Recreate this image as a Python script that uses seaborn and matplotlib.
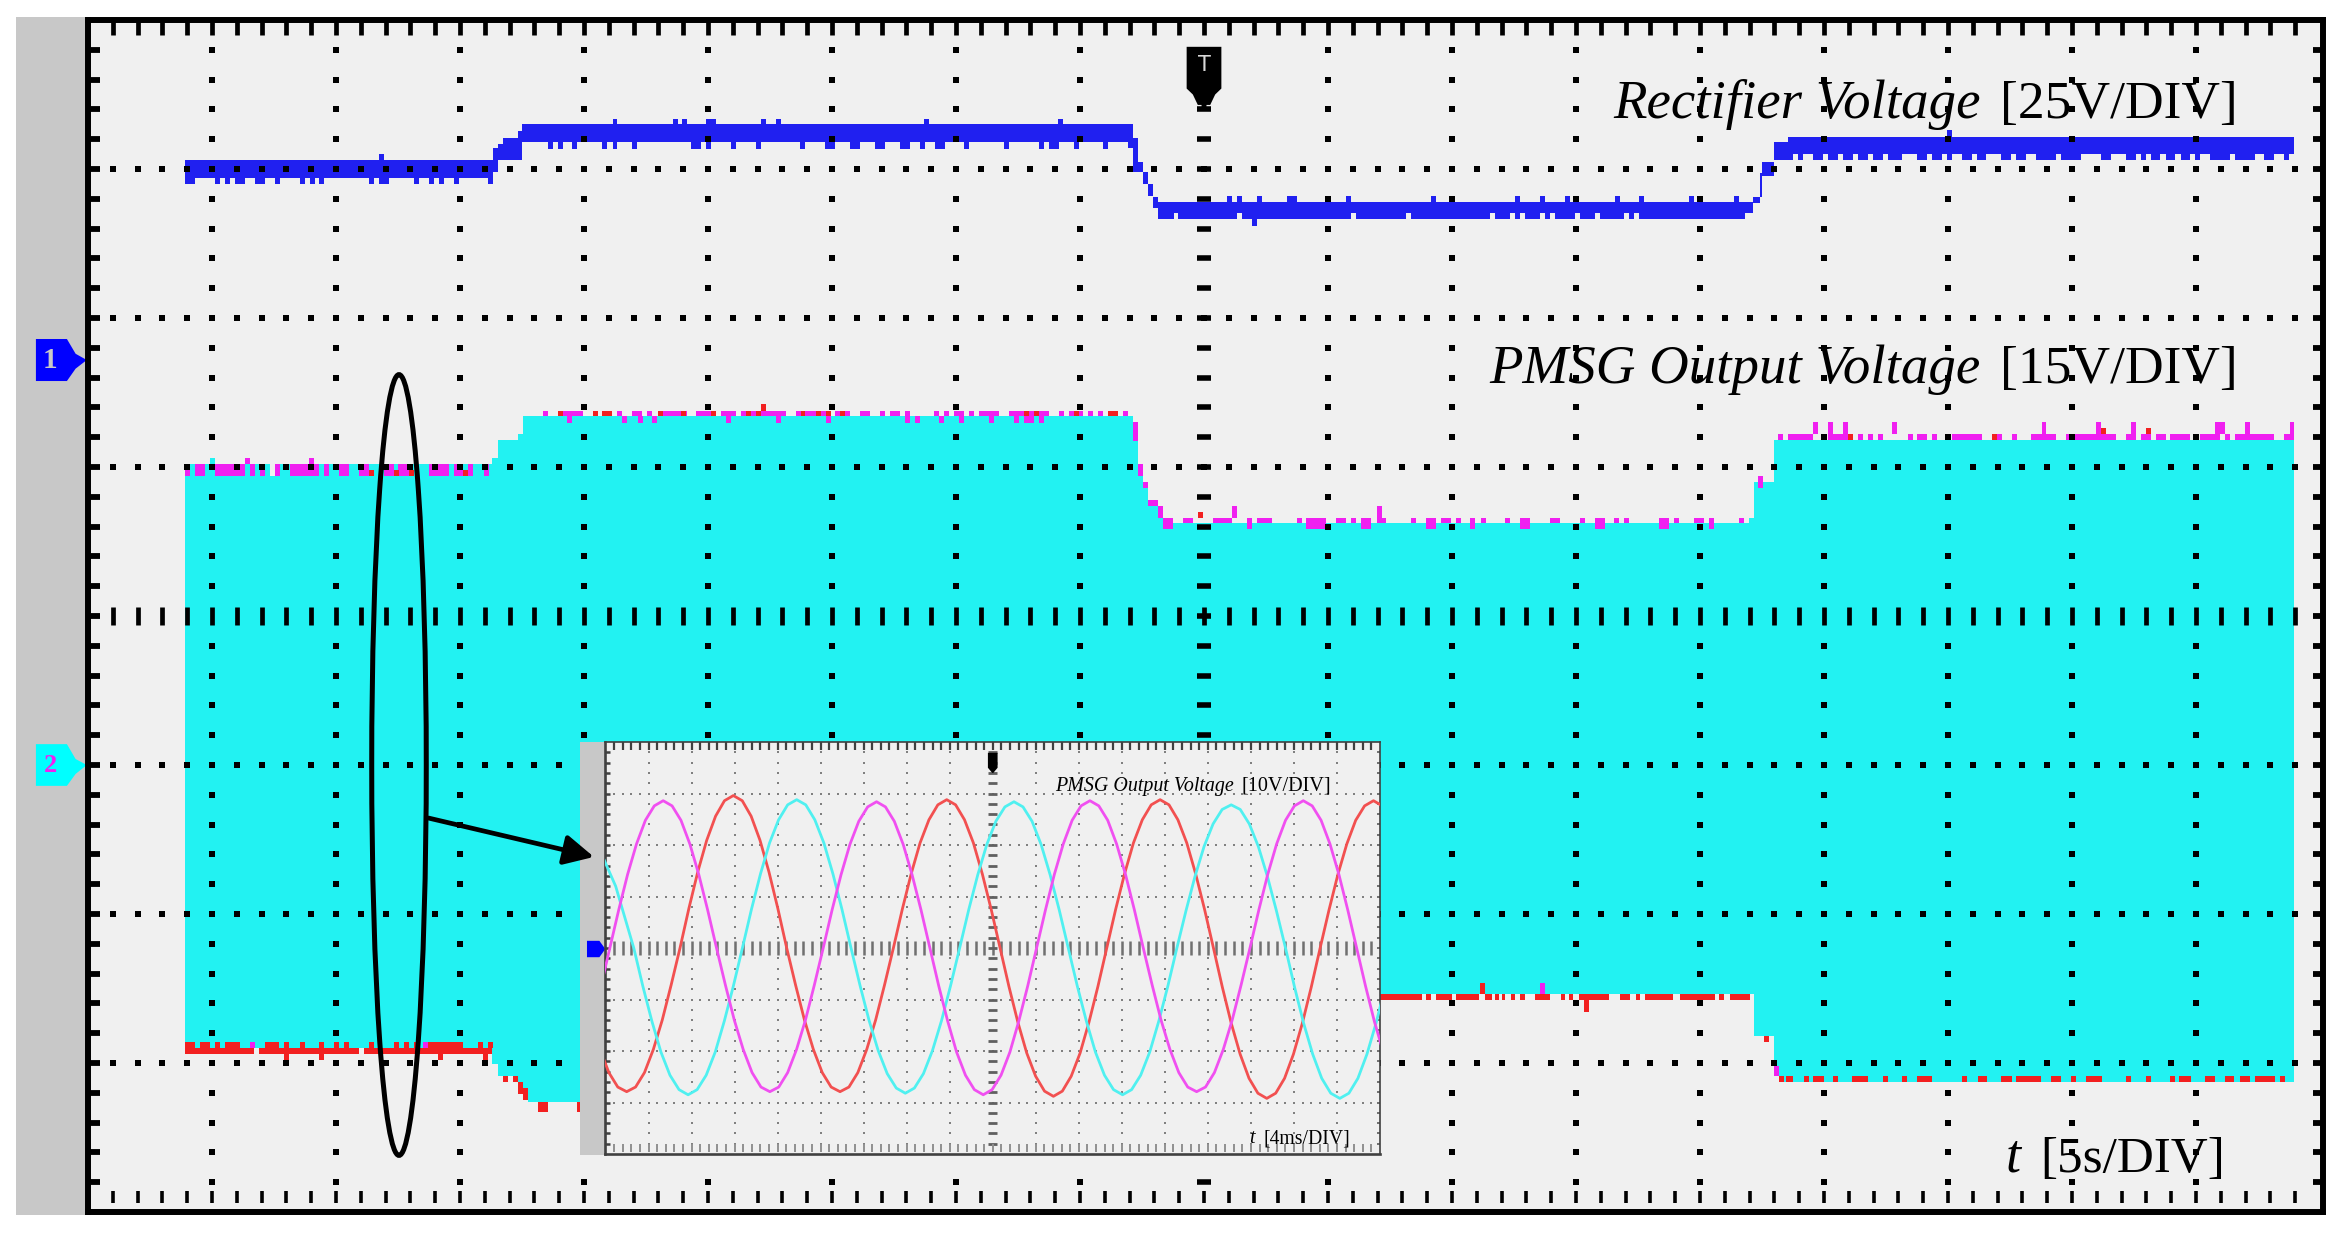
import numpy as np
import pandas as pd
import matplotlib
matplotlib.use("Agg")
import matplotlib.pyplot as plt
from matplotlib.patches import Ellipse, Polygon, Rectangle
import seaborn as sns

# ---- main trace: time in s (5 s/DIV), level in divisions from screen centre ----
blue_t = [3.91, 16.33, 16.53, 16.73, 17.34, 17.5, 41.94, 42.14, 42.34, 42.54, 42.74, 42.94, 43.14,
          66.8, 67.15, 67.4, 67.5, 68.0, 68.55, 88.97]
blue_top = [3.06, 3.14, 3.17, 3.21, 3.255, 3.30, 3.30, 3.21, 3.05, 2.98, 2.90, 2.81, 2.78,
            2.78, 2.81, 2.97, 3.05, 3.18, 3.215, 3.215]
blue_bot = [2.94, 2.98, 3.06, 3.06, 3.06, 3.18, 3.14, 2.98, 2.98, 2.90, 2.82, 2.74, 2.665,
            2.705, 2.77, 2.81, 2.95, 3.06, 3.10, 3.10]
blue_a_low = [3.91, 4.11, 5.14, 5.53, 5.93, 6.13, 6.72, 6.92, 7.53, 8.54, 8.94, 9.33, 11.33, 11.73, 11.93,
              13.14, 13.75, 14.14, 14.74, 16.14]
blue_a_up = [11.73]
blue_b_low = [18.54, 18.94, 19.53, 20.74, 21.15, 21.95, 24.33, 24.53, 24.92, 25.93, 26.94, 28.72, 29.73, 29.93,
              30.73, 30.93, 31.73, 31.93, 32.74, 32.94, 33.54, 34.14, 34.34, 35.34, 36.94, 38.35, 38.74, 38.94,
              39.75, 40.94]
blue_b_up = [21.15, 23.57, 23.96, 24.92, 25.12, 27.14, 27.73, 33.72, 39.13]
blue_c_up = [45.93, 46.33, 47.14, 48.34, 48.54, 50.74, 54.14, 57.54, 58.55, 59.54, 61.56, 62.55, 64.54, 66.36]
blue_c_notch = [43.77, 46.34, 50.94, 53.15, 56.55, 57.33, 57.74, 58.55, 58.95, 59.95, 60.75, 61.95, 62.35]
blue_c_down = [46.94]
blue_d_low = [(68.36, .39), (68.97, .2), (69.56, .39), (70.16, .39), (70.77, .39), (71.37, .39), (71.97, .39),
              (72.56, .59), (73.76, .39), (74.36, .39), (74.95, .2), (75.56, .39), (76.16, .39), (77.15, .39),
              (77.76, .39), (78.56, .79), (79.56, .8), (81.17, .39), (82.18, .39), (82.78, .2), (83.17, .39),
              (83.77, .39), (84.38, .39), (84.97, .2), (85.56, .8), (86.56, .8), (87.76, .39), (88.56, .2)]
blue_d_up = [74.95]

cyan_t = [3.91, 16.31, 16.53, 17.34, 17.53, 17.74, 42.15, 42.33, 42.55, 42.74, 43.14, 43.34, 50.0,
          66.99, 67.17, 67.97, 68.18, 88.97]
cyan_top = [1.02, 1.06, 1.18, 1.22, 1.342, 1.342, 1.175, .94, .86, .74, .66, .625, .625, .66, .90, 1.18, 1.18, 1.18]
cyan_bot = [-2.90, -3.01, -3.09, -3.13, -3.19, -3.26, -3.26, -3.26, -3.26, -3.26, -3.26, -3.26,
            -2.537, -2.537, -2.82, -3.02, -3.13, -3.13]

mag_a = [(3.91, .2), (4.32, .4), (5.14, 1.2), (6.52, .2), (6.92, .2), (7.53, .2), (8.13, 1.2), (9.53, .2),
         (10.13, .4), (10.92, .4), (11.93, .4), (12.52, .6), (13.75, .8), (14.74, .4), (15.33, .2), (15.95, .2)]
mag_a_up = [6.32, 8.92]
red_a_spots = [11.33, 12.34, 12.94, 15.14]
mag_b = [(18.34, .2), (18.94, 1.0), (20.36, .2), (20.74, .4), (21.35, .2), (21.95, .4), (22.56, .2), (22.97, .2),
         (23.17, 1.0), (24.52, .8), (25.52, .6), (26.33, 1.8), (28.53, 1.38), (30.13, .6), (31.13, .4),
         (31.93, .2), (32.34, .4), (32.94, .2), (34.12, .2), (34.53, .2), (34.93, .4), (35.54, .2), (35.94, .8),
         (37.14, 1.6), (39.14, .2), (39.54, .6), (40.34, .2), (40.74, .2), (41.14, .4), (41.75, .2)]
mag_b_down = [19.33, 21.55, 22.16, 22.76, 25.72, 27.74, 29.74, 32.94, 33.33, 34.33, 35.13, 36.33, 37.34,
              37.74, 37.94, 38.34]
red_b_spots = [18.94, 20.36, 20.74, 20.94, 22.97, 23.92, 25.12, 26.53, 26.93, 28.73, 29.34, 29.74, 30.33, 37.74,
               38.14, 39.74, 41.14, 41.34]
red_b_up = [27.14]
mag_c = [(43.34, .4), (44.15, .4), (45.37, .77), (46.74, .2), (47.14, .6), (48.74, .2), (49.13, .8), (50.34, .4),
         (50.94, .2), (51.33, .4), (51.96, .37), (53.35, .2), (53.94, .4), (54.55, .4), (55.15, .2), (55.74, .2),
         (56.16, .2), (57.15, .2), (57.76, .4), (58.95, .4), (60.15, .2), (60.75, .4), (61.54, .2), (61.95, .2),
         (63.36, .4), (63.95, .2), (64.76, .4), (65.35, .2), (66.56, .2)]
mag_c_up = [46.14, 51.97]
red_c_up = [44.76]
mag_d = [(68.16, .2), (68.55, 1.0), (70.16, .8), (71.37, .2), (71.77, .2), (72.16, .2), (73.37, .2), (73.76, .4),
         (74.36, .2), (75.15, 1.22), (76.77, .39), (77.57, .2), (78.36, 1.0), (79.76, 2.0), (82.18, .39),
         (82.78, .39), (83.37, .4), (83.97, .8), (85.17, .8), (86.16, .2), (86.56, 1.6), (88.56, .4)]
mag_d_up = [69.56, 70.16, 70.77, 72.76, 78.77, 80.97, 82.38, 85.77, 85.97, 86.97, 88.77]
red_d_spots = [70.95, 76.77]
red_d_high = [81.17, 82.97]
mag_ramp = [(42.15, 1.30, 1.175), (42.33, 1.02, .94), (42.55, .90, .86), (42.74, .78, .74), (42.94, .78, .74),
            (43.14, .74, .66), (67.35, .94, .86)]

red_a_base = [(3.91, 2.79), (6.9, 4.02), (11.12, 5.19)]
red_a_bump = [(3.91, .4), (4.52, .4), (5.13, .2), (5.53, .6), (7.12, .6), (7.92, .2), (8.53, .2), (9.32, .2),
              (9.93, .2), (10.33, .2), (11.33, .2), (12.34, .2), (12.74, .2), (13.13, .2), (13.52, 1.6),
              (15.73, .2), (16.13, .2)]
red_a_down = [7.92, 9.32, 14.12, 15.93]
mag_a_bottom = [6.52, 13.52]
red_ramp = [(16.74, -3.09, -3.13), (17.14, -3.09, -3.13), (17.34, -3.13, -3.21), (17.53, -3.17, -3.25),
            (18.14, -3.26, -3.33), (18.34, -3.26, -3.33), (19.73, -3.26, -3.33), (67.57, -2.82, -2.86)]
red_c = [(52.1, 1.67), (53.97, .18), (54.35, .63), (55.16, .94), (56.35, .25), (56.75, .15), (57.0, .15), (57.36, .18),
         (57.76, .18), (58.34, .6), (59.38, .18), (59.71, .18), (60.14, 1.2), (61.78, .4), (62.41, .18),
         (62.77, 1.16), (64.18, 1.43), (65.77, .18), (66.2, .8)]
red_d = [(68.18, .2), (68.48, .25), (69.19, .2), (69.54, .45), (70.35, .2), (71.13, .63), (72.37, .2), (73.16, .2),
         (73.76, .6), (75.56, .2), (76.19, .38), (77.15, .42), (77.76, 1.0), (79.17, .38), (79.96, .2), (80.56, .63),
         (82.18, .2), (82.99, .2), (83.97, .2), (84.33, .45), (85.37, .4), (86.17, .38), (86.76, .42), (87.39, .8),
         (88.4, .2)]

# ---- inset traces: 4 ms/DIV, 10 V/DIV, one reading per time step ----
inset_red_start, inset_red_step = -1.338, 0.8265
inset_red_v = [-14.0, -19.7, -24.2, -27.0, -27.9, -27.0, -24.2, -19.7, -14.0, -7.2, 0.0, 7.7, 14.8, 20.9, 25.6, 28.6, 29.6,
               28.6, 25.6, 20.9, 14.8, 7.7, 0.0, -7.2, -14.0, -19.7, -24.2, -27.0, -27.9, -27.0, -24.2, -19.7, -14.0,
               -7.2, 0.0, 7.5, 14.4, 20.4, 24.9, 27.8, 28.8, 27.8, 24.9, 20.4, 14.4, 7.5, 0.0, -7.5, -14.4, -20.4, -24.9,
               -27.8, -28.8, -27.8, -24.9, -20.4, -14.4, -7.5, 0.0, 7.5, 14.4, 20.4, 24.9, 27.8, 28.8, 27.8, 24.9, 20.4,
               14.4, 7.5, 0.0, -7.6, -14.6, -20.6, -25.3, -28.2, -29.2, -28.2, -25.3, -20.6, -14.6, -7.6, 0.0, 7.4, 14.3,
               20.2, 24.8, 27.6, 28.6, 27.6, 24.8, 20.2]
inset_cyan_start, inset_cyan_step = -0.738, 0.8415
inset_cyan_v = [20.0, 16.0, 12.0, 6.0, 0.0, -7.4, -14.2, -20.2, -24.7, -27.5, -28.5, -27.5, -24.7, -20.2, -14.2, -7.4, 0.0,
                7.5, 14.4, 20.4, 24.9, 27.8, 28.8, 27.8, 24.9, 20.4, 14.4, 7.5, 0.0, -7.3, -14.1, -19.9, -24.4, -27.2,
                -28.2, -27.2, -24.4, -19.9, -14.1, -7.3, 0.0, 7.4, 14.2, 20.1, 24.6, 27.4, 28.4, 27.4, 24.6, 20.1, 14.2,
                7.4, 0.0, -7.4, -14.2, -20.2, -24.7, -27.5, -28.5, -27.5, -24.7, -20.2, -14.2, -7.4, 0.0, 7.2, 13.9,
                19.7, 24.1, 26.9, 27.8, 26.9, 24.1, 19.7, 13.9, 7.2, 0.0, -7.6, -14.6, -20.6, -25.3, -28.2, -29.2, -28.2,
                -25.3, -20.6, -14.6, -7.6]
inset_mag_start, inset_mag_step = -1.25, 0.8265
inset_mag_v = [-14.3, -7.4, 0.0, 7.4, 14.3, 20.2, 24.8, 27.6, 28.6, 27.6, 24.8, 20.2, 14.3, 7.4, 0.0, -7.2, -14.0, -19.7,
               -24.2, -27.0, -27.9, -27.0, -24.2, -19.7, -14.0, -7.2, 0.0, 7.4, 14.2, 20.1, 24.6, 27.4, 28.4, 27.4, 24.6,
               20.1, 14.2, 7.4, 0.0, -7.4, -14.2, -20.2, -24.7, -27.5, -28.5, -27.5, -24.7, -20.2, -14.2, -7.4, 0.0, 7.4,
               14.3, 20.2, 24.8, 27.6, 28.6, 27.6, 24.8, 20.2, 14.3, 7.4, 0.0, -7.2, -14.0, -19.7, -24.2, -27.0, -27.9,
               -27.0, -24.2, -19.7, -14.0, -7.2, 0.0, 7.4, 14.3, 20.2, 24.8, 27.6, 28.6, 27.6, 24.8, 20.2, 14.3, 7.4, 0.0,
               -7.4, -14.3, -20.2, -24.8]

# ---- colours ----
BG, GRAY = "#F0F0F0", "#C8C8C8"
BLUE, CYAN, MAG, RED = "#2020F0", "#22F2F2", "#F020F0", "#F22020"

W, H = 2343, 1233
sns.set_theme(style="white")
plt.rcParams["font.family"] = ["Liberation Serif", "DejaVu Sans"]
fig = plt.figure(figsize=(W / 100, H / 100), dpi=100, facecolor="white")


def axes_px(x0, x1, y0, y1, **kw):
    return fig.add_axes([x0 / W, 1 - y1 / H, (x1 - x0) / W, (y1 - y0) / H], **kw)


ax = axes_px(88, 2322.5, 20, 1212, facecolor=BG, zorder=0)
ax.set_xlim(0, 90.1)
ax.set_ylim(-4, 4)
ax.set_xticks([])
ax.set_yticks([])
for s in ax.spines.values():
    s.set_visible(True)
    s.set_color("black")
    s.set_linewidth(4.3)
    s.set_zorder(12)


def blocks(axis, items, lo, hi, color, z=5):
    for it in items:
        start, width = it if isinstance(it, tuple) else (it, 0.2)
        axis.bar(start, hi - lo, width=width, bottom=lo, align="edge", color=color, linewidth=0, zorder=z)


# left strip
ax.add_patch(Rectangle((-2.9, -4.02), 2.9, 8.04, fc=GRAY, ec="none", clip_on=False, zorder=1))

# PMSG envelope
ax.fill_between(cyan_t, cyan_bot, cyan_top, step="post", color=CYAN, linewidth=0, zorder=2)
blocks(ax, mag_a, .94, 1.02, MAG)
blocks(ax, mag_a_up, 1.02, 1.06, MAG)
blocks(ax, [4.92], 1.02, 1.06, CYAN)
blocks(ax, [7.33], .94, 1.02, BG)
blocks(ax, red_a_spots, .94, .98, RED, 6)
blocks(ax, mag_b, 1.342, 1.376, MAG)
blocks(ax, mag_b_down, 1.295, 1.342, MAG)
blocks(ax, red_b_spots, 1.342, 1.376, RED, 6)
blocks(ax, red_b_up, 1.376, 1.42, RED, 6)
blocks(ax, mag_c, .625, .66, MAG)
blocks(ax, mag_c[::3], .585, .625, MAG)
blocks(ax, mag_c_up, .66, .74, MAG)
blocks(ax, red_c_up, .66, .70, RED, 6)
blocks(ax, mag_d, 1.18, 1.22, MAG)
blocks(ax, mag_d_up, 1.22, 1.30, MAG)
blocks(ax, red_d_spots, 1.18, 1.22, RED, 6)
blocks(ax, red_d_high, 1.22, 1.26, RED, 6)
for t0, hi, lo in mag_ramp:
    blocks(ax, [t0], lo, hi, MAG)

blocks(ax, red_a_base, -2.94, -2.90, RED)
blocks(ax, red_a_bump, -2.90, -2.86, RED)
blocks(ax, red_a_down, -2.98, -2.94, RED)
blocks(ax, mag_a_bottom, -2.90, -2.86, MAG, 6)
for t0, hi, lo in red_ramp:
    blocks(ax, [t0], lo, hi, RED)
blocks(ax, red_c, -2.58, -2.537, RED)
blocks(ax, [(56.14, .2)], -2.537, -2.46, RED)
blocks(ax, [(58.55, .2)], -2.537, -2.46, MAG)
blocks(ax, [(60.34, .2)], -2.66, -2.58, RED)
blocks(ax, red_d, -3.13, -3.09, RED)
blocks(ax, [(67.97, .2)], -3.09, -3.02, MAG)

# Rectifier trace
ax.fill_between(blue_t, blue_bot, blue_top, step="post", color=BLUE, linewidth=0, zorder=3)
blocks(ax, blue_a_low, 2.90, 2.94, BLUE, 3)
blocks(ax, blue_a_up, 3.06, 3.10, BLUE, 3)
blocks(ax, blue_b_low, 3.135, 3.18, BLUE, 3)
blocks(ax, blue_b_up, 3.30, 3.335, BLUE, 3)
blocks(ax, blue_c_up, 2.78, 2.82, BLUE, 3)
blocks(ax, blue_c_notch, 2.665, 2.705, BG, 3.5)
blocks(ax, blue_c_down, 2.62, 2.665, BLUE, 3)
blocks(ax, blue_d_low, 3.06, 3.10, BLUE, 3)
blocks(ax, blue_d_up, 3.215, 3.26, BLUE, 3)

# graticule
minor_t = np.arange(1, 90)
minor_v = np.round(np.arange(-3.8, 3.81, .2), 1)
col_t = np.arange(5, 90, 5)
row_v = [-3, -2, -1, 1, 2, 3]
dots = pd.DataFrame(
    [(t, v) for v in row_v for t in minor_t]
    + [(t, v) for t in col_t if t != 45 for v in minor_v if v not in row_v and v != 0],
    columns=["t", "v"],
)
sns.scatterplot(data=dots, x="t", y="v", marker="s", s=13, color="black", linewidth=0, ax=ax, zorder=7, legend=False)
ax.set_xlabel("")
ax.set_ylabel("")
ax.vlines(minor_t, -.06, .06, color="black", lw=3.4, zorder=7)
ax.hlines(minor_v, 44.7, 45.3, color="black", lw=4.0, zorder=7)
ax.vlines(minor_t, 3.9, 4, color="black", lw=3.4, zorder=7)
ax.vlines(minor_t, -3.94, -3.86, color="black", lw=2.6, zorder=7)
ax.hlines(minor_v, 0, .5, color="black", lw=4.2, zorder=7)
ax.hlines(minor_v, 89.7, 90.1, color="black", lw=4.2, zorder=7)

# trigger marker
ax.add_patch(Polygon([(44.3, 3.82), (45.7, 3.82), (45.7, 3.54), (45.45, 3.50), (45.25, 3.43), (45.1, 3.43),
                      (45.1, 3.395), (44.9, 3.395), (44.9, 3.43), (44.75, 3.43), (44.55, 3.50), (44.3, 3.54)],
                     fc="black", ec="none", zorder=8))
ax.text(45, 3.70, "T", color="#D8D8D8", ha="center", va="center", fontsize=15,
        family=["DejaVu Sans"], zorder=9)

# channel markers
ax.add_patch(Polygon([(-2.1, 1.859), (-.85, 1.859), (-.5, 1.76), (-.05, 1.718), (-.5, 1.66), (-.85, 1.577), (-2.1, 1.577)],
                     fc="#0000FF", ec="none", clip_on=False, zorder=9))
ax.text(-1.55, 1.715, "1", color=GRAY, ha="center", va="center", fontsize=21, fontweight="bold", zorder=10)
ax.add_patch(Polygon([(-2.1, -.86), (-.85, -.86), (-.5, -.96), (-.05, -1.0), (-.5, -1.06), (-.85, -1.14), (-2.1, -1.14)],
                     fc="#00FFFF", ec="none", clip_on=False, zorder=9))
ax.text(-1.5, -1.0, "2", color=MAG, ha="center", va="center", fontsize=19, fontweight="bold", zorder=10)

# channel trace labels
ax.text(76.33, 3.342, "Rectifier Voltage", style="italic", ha="right", va="baseline", fontsize=39.5, color="black", zorder=9)
ax.text(77.08, 3.342, "[25V/DIV]", ha="left", va="baseline", fontsize=38.5, color="black", zorder=9)
ax.text(76.33, 1.564, "PMSG Output Voltage", style="italic", ha="right", va="baseline", fontsize=39.5, color="black", zorder=9)
ax.text(77.08, 1.564, "[15V/DIV]", ha="left", va="baseline", fontsize=38.5, color="black", zorder=9)
ax.text(77.34, -3.73, "t", style="italic", ha="left", va="baseline", fontsize=39, color="black", zorder=9)
ax.text(78.71, -3.73, "[5s/DIV]", ha="left", va="baseline", fontsize=36.8, color="black", zorder=9)

# ellipse
ax.add_patch(Ellipse((12.54, -1.0), 2.2, 5.24, fill=False, ec="black", lw=3.6, zorder=9))

# inset strip + marker (inside the main axes)
ax.add_patch(Rectangle((19.84, -3.617), 1.02, 2.771, fc=GRAY, ec="none", zorder=8))
ax.add_patch(Polygon([(20.12, -2.18), (20.62, -2.18), (20.86, -2.235), (20.62, -2.29), (20.12, -2.29)],
                     fc="#0000FF", ec="none", zorder=9))

# ---- inset ----
ai = axes_px(605.5, 1380, 742, 1154, facecolor=BG, zorder=2)
ai.set_xlim(0, 72)
ai.set_ylim(-40, 40)
ai.set_xticks([])
ai.set_yticks([])
for name, s in ai.spines.items():
    s.set_visible(True)
    s.set_color("#404040")
    s.set_linewidth(1.9 if name in ("left", "bottom") else 1.2)

i_minor_t = np.round(np.arange(0.8, 72, .8), 1)
i_minor_v = np.arange(-38, 39, 2)
i_col = np.arange(4, 72, 4)
i_row = [-30, -20, -10, 10, 20, 30]
i_dots = pd.DataFrame(
    [(t, v) for v in i_row for t in i_minor_t]
    + [(t, v) for t in i_col if t != 36 for v in i_minor_v if v % 10 != 0],
    columns=["t", "v"],
)
sns.scatterplot(data=i_dots, x="t", y="v", marker="s", s=4.5, color="#808080", linewidth=0, ax=ai, zorder=1, legend=False)
ai.vlines(i_minor_t, -1.4, 1.4, color="#707070", lw=1.8, zorder=1)
ai.hlines(i_minor_v, 35.6, 36.4, color="#606060", lw=2.0, zorder=1)
ai.vlines(i_minor_t, 38.4, 40, color="#404040", lw=1.6, zorder=1)
ai.vlines(i_minor_t, -39.6, -38, color="#909090", lw=1.4, zorder=1)
ai.hlines(i_minor_v, 0, .45, color="#404040", lw=1.8, zorder=1)
ai.hlines(i_minor_v, 71.7, 72, color="#707070", lw=1.4, zorder=1)

for start, step, vals, col in [(inset_red_start, inset_red_step, inset_red_v, "#F25050"),
                               (inset_cyan_start, inset_cyan_step, inset_cyan_v, "#50F0F0"),
                               (inset_mag_start, inset_mag_step, inset_mag_v, "#F050F0")]:
    tt = start + step * np.arange(len(vals))
    sns.lineplot(x=tt, y=vals, color=col, lw=2.0, ax=ai, estimator=None, sort=False, errorbar=None, legend=False, zorder=3)
ai.set_xlabel("")
ai.set_ylabel("")
ai.set_xlim(0, 72)
ai.set_ylim(-40, 40)

ai.add_patch(Polygon([(35.55, 37.9), (36.45, 37.9), (36.45, 35), (36.05, 34), (35.95, 34), (35.55, 35)], fc="black", ec="none", zorder=4))
ai.text(58.44, 30.5, "PMSG Output Voltage", style="italic", ha="right", va="baseline", fontsize=14.4, color="black", zorder=5)
ai.text(59.08, 30.5, "[10V/DIV]", ha="left", va="baseline", fontsize=14.6, color="black", zorder=5)
ai.text(59.82, -37.9, "t", style="italic", ha="left", va="baseline", fontsize=14.4, color="black", zorder=5)
ai.text(61.17, -37.9, "[4ms/DIV]", ha="left", va="baseline", fontsize=14.2, color="black", zorder=5)

# pointer from the ellipse to the inset
ai.annotate("", xy=(20.40, -1.617), xycoords=ax.transData, xytext=(13.73, -1.356), textcoords=ax.transData,
            arrowprops=dict(arrowstyle="-|>,head_length=0.75,head_width=0.38", lw=3.4, color="black",
                            mutation_scale=24, shrinkA=0, shrinkB=0), annotation_clip=False, zorder=10)

fig.savefig("out.png", dpi=100, facecolor="white")
